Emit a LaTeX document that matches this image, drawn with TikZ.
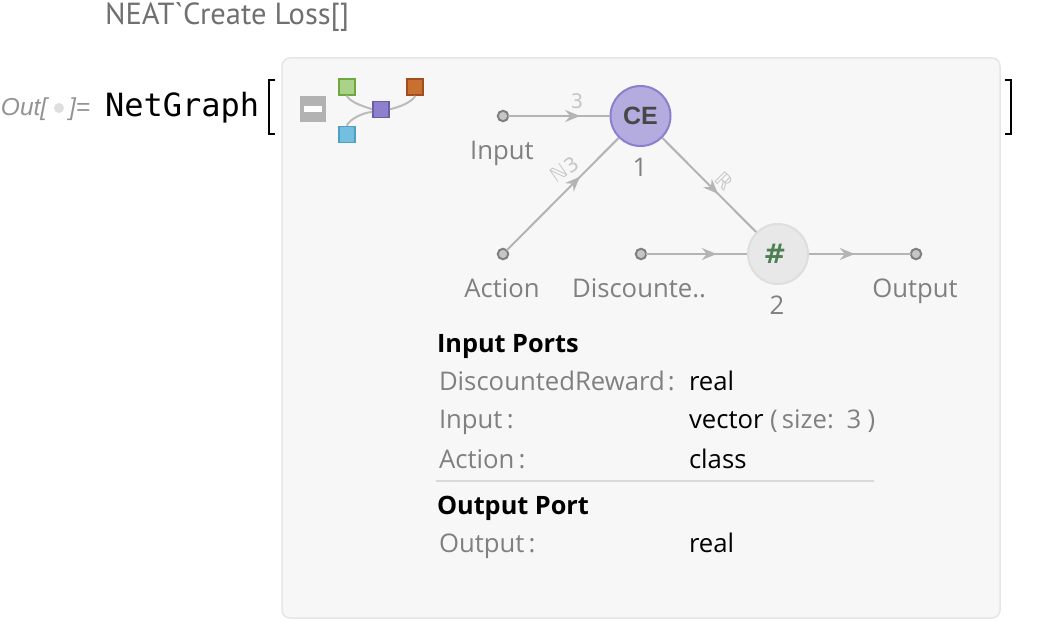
\documentclass[tikz,border=0pt]{standalone}
\usepackage{fontspec}
\setmainfont{Open Sans}
\newfontfamily\outfont{Liberation Sans}
\newfontfamily\codefont{PT Sans}
\newfontfamily\monofont{DejaVu Sans Mono}
\newfontfamily\symfont{DejaVu Sans}
\usetikzlibrary{arrows.meta,decorations.markings}
\definecolor{panelfill}{HTML}{F7F7F7}
\definecolor{panelline}{HTML}{E6E6E6}
\definecolor{edgegray}{HTML}{B4B4B4}
\definecolor{labelgray}{HTML}{808080}
\definecolor{dimgray}{HTML}{C6C6C6}
\definecolor{codegray}{HTML}{707070}
\definecolor{cefill}{HTML}{B4ABDE}
\definecolor{celine}{HTML}{8B7FD0}
\definecolor{hashgreen}{HTML}{4E7F53}
\definecolor{sqgfill}{HTML}{ABD28A}\definecolor{sqgline}{HTML}{6FA83C}
\definecolor{sqofill}{HTML}{C8702F}\definecolor{sqoline}{HTML}{A04D20}
\definecolor{sqbfill}{HTML}{72BFE0}\definecolor{sqbline}{HTML}{4F9FBF}
\definecolor{sqmfill}{HTML}{8E80CC}\definecolor{sqmline}{HTML}{6A5CA8}
\tikzset{
  txt/.style={inner sep=0pt,outer sep=0pt,anchor=base west},
  ctxt/.style={inner sep=0pt,outer sep=0pt,anchor=base,font=\fontsize{25.7}{26}\selectfont,text=labelgray},
  rowlabel/.style={txt,font=\fontsize{25.7}{26}\selectfont,text=labelgray},
  rowvalue/.style={txt,font=\fontsize{25.7}{26}\selectfont,text=black},
  rowhead/.style={txt,font=\fontsize{25.3}{26}\selectfont\bfseries,text=black},
  port/.style={circle,draw=labelgray,fill=dimgray,line width=2pt,minimum size=10.5pt,inner sep=0pt,outer sep=0pt},
  layer/.style={circle,minimum size=60pt,inner sep=0pt,line width=2pt},
  conn/.style={draw=edgegray,line width=2pt,postaction={decorate},
     decoration={markings,mark=at position #1 with {\arrow{Stealth[length=15pt,width=12pt,inset=5pt,fill=edgegray]}}}},
  sq/.style={rectangle,minimum size=16pt,inner sep=0pt,line width=1.8pt},
  iconline/.style={draw=edgegray!90!white,line width=2pt},
  elabel/.style={inner sep=0pt,text=dimgray,font=\symfont\fontsize{20}{20}\selectfont},
}
\begin{document}
\begin{tikzpicture}[x=1pt,y=-1pt]
\useasboundingbox (0,0) rectangle (1042,642);
\fill[white] (0,0) rectangle (1042,642);
% header
\node[txt,text=codegray,font=\codefont\fontsize{30.5}{30}\selectfont] (title) at (105,25) {NEAT`Create Loss[]};
\node[txt,text=labelgray!85!white,font=\outfont\fontsize{24.5}{24}\selectfont\itshape] (outa) at (1,115) {Out[};
\node[circle,fill=black!13,minimum size=10pt,inner sep=0pt] (outdot) at (59,108) {};
\node[txt,text=labelgray!85!white,font=\outfont\fontsize{24.5}{24}\selectfont\itshape] (outb) at (69,115) {]=};
\node[txt,text=black,font=\monofont\fontsize{32}{32}\selectfont] (ng) at (105,116) {NetGraph};
% brackets
\coordinate (lb1) at (275,80); \coordinate (lb2) at (269,80); \coordinate (lb3) at (269,134); \coordinate (lb4) at (275,134);
\draw[black,line width=1.2pt] (lb1) -- (lb2) -- (lb3) -- (lb4);
\coordinate (rb1) at (1005,80); \coordinate (rb2) at (1011,80); \coordinate (rb3) at (1011,134); \coordinate (rb4) at (1005,134);
\draw[black,line width=1.2pt] (rb1) -- (rb2) -- (rb3) -- (rb4);
% panel
\draw[draw=panelline,fill=panelfill,line width=1.5pt,rounded corners=8pt] (282,58) rectangle (1000,618);
% collapse icon
\fill[fill=black!30] (300,96) rectangle (326,122);
\fill[white] (304,106) rectangle (322,112);
% mini graph
\node[sq,fill=sqmfill,draw=sqmline] (sqm) at (381,109.5) {};
\node[sq,fill=sqgfill,draw=sqgline] (sqg) at (346.7,86.7) {};
\node[sq,fill=sqofill,draw=sqoline] (sqo) at (415.3,87) {};
\node[sq,fill=sqbfill,draw=sqbline] (sqb) at (346.7,134.5) {};
\draw[iconline] (sqg.south) .. controls (350,102) and (362,106) .. (sqm.178);
\draw[iconline] (sqb.north) .. controls (350,119) and (362,113) .. (sqm.195);
\draw[iconline] (sqo.south) .. controls (412,102) and (400,107) .. (sqm.2);
% graph
\node[port] (pin) at (503,116) {};
\node[port] (pact) at (503,254) {};
\node[port] (pdis) at (641,254) {};
\node[port] (pout) at (916,254) {};
\node[layer,fill=cefill,draw=celine,text=black!72,font=\outfont\fontsize{25}{25}\selectfont\bfseries] (ce) at (640.5,116) {CE};
\node[layer,fill=black!9,draw=black!13] (hash) at (778,254) {};
\node[inner sep=0pt,text=hashgreen,font=\symfont\fontsize{27}{28}\selectfont\bfseries] (hashsym) at (775,254) {\#};
\draw[conn=0.71] (pin) -- (ce);
\draw[conn=0.655] (pact) -- (ce);
\draw[conn=0.595] (ce) -- (hash);
\draw[conn=0.70] (pdis) -- (hash);
\draw[conn=0.45] (hash) -- (pout);
\node[elabel] (l3) at (577,101) {3};
\node[elabel,rotate=35] (ln3) at (564.5,169) {ℕ3};
\node[elabel,rotate=-45] (lr) at (724,181) {ℝ};
% graph labels
\node[ctxt] (tin) at (502,159) {Input};
\node[ctxt] (t1) at (640,176) {1};
\node[ctxt] (tact) at (502,297) {Action};
\node[ctxt] (tdis) at (639,297) {Discounte..};
\node[ctxt] (t2) at (777,314) {2};
\node[ctxt] (tout) at (915,297) {Output};
% table
\node[rowhead] (h1) at (437,352) {Input Ports};
\node[rowlabel] (r1) at (439,390) {DiscountedReward\hspace{3pt}:};
\node[rowvalue] (v1) at (689,390) {real};
\node[rowlabel] (r2) at (439,428) {Input\,:};
\node[rowvalue] (v2) at (689,428) {vector};
\node[rowlabel] (v2b) at (770,428) {(\,size:\ \hspace{6pt}3\,\hspace{2pt})};
\node[rowlabel] (r3) at (439,468) {Action\,:};
\node[rowvalue] (v3) at (689,468) {class};
\coordinate (sepa) at (436,481); \coordinate (sepb) at (874,481);
\draw[black!15,line width=1.2pt] (sepa) -- (sepb);
\node[rowhead] (h2) at (437,514) {Output Port};
\node[rowlabel] (r4) at (439,552) {Output\,:};
\node[rowvalue] (v4) at (689,552) {real};
\end{tikzpicture}
\end{document}
